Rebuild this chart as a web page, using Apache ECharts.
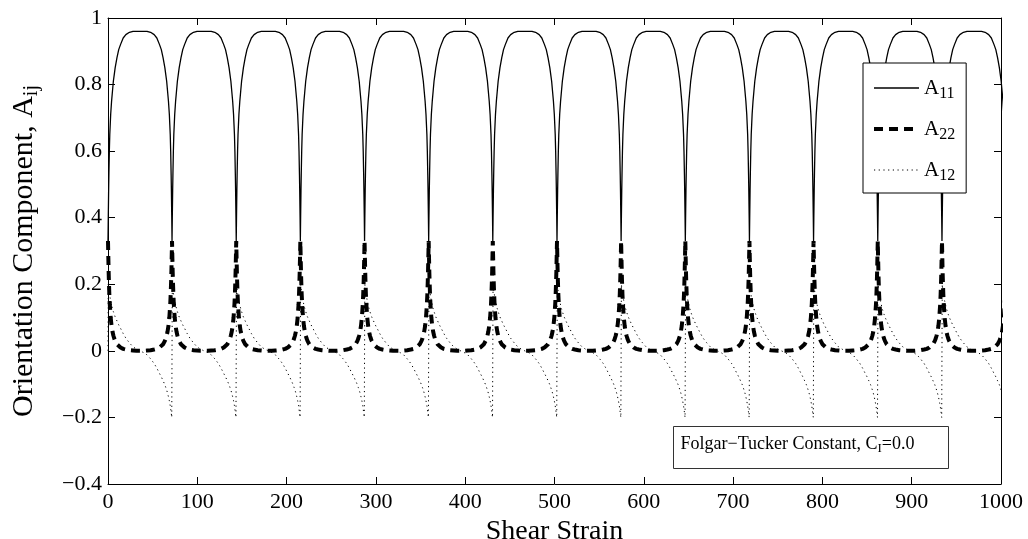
<!DOCTYPE html>
<html>
<head>
<meta charset="utf-8">
<script src="https://cdn.jsdelivr.net/npm/echarts@6/dist/echarts.min.js"></script>
<style>
html,body{margin:0;padding:0;background:#fff;}
#chart{width:1028px;height:539px;}
</style>
</head>
<body>
<div id="chart"></div>
<script>
// ---- data ----
// shear strain positions of the flip cusps (A22 peaks)
const cuspX = [0, 71.7, 143.6, 215.4, 287.3, 359.1, 430.9, 502.8, 574.6, 646.5, 718.3, 790.1, 862.0, 933.9, 1006.2];
// distance (strain units) from a cusp at which one half-flip was read
const offsets = [0, 0.3, 0.7, 1, 1.5, 2, 2.5, 3, 4, 5, 6, 7, 8, 10, 12, 14, 17, 20, 24, 28, 32, 35];
// A11 read at those distances (symmetric about the cusp)
const a11Half = [0.33, 0.40, 0.48, 0.53, 0.60, 0.65, 0.68, 0.71, 0.75, 0.78, 0.81, 0.83, 0.85, 0.88, 0.905, 0.92, 0.94, 0.95, 0.957, 0.96, 0.96, 0.96];
// A22 read at those distances (symmetric about the cusp)
const a22Half = [0.33, 0.29, 0.24, 0.21, 0.17, 0.14, 0.12, 0.10, 0.075, 0.058, 0.046, 0.037, 0.03, 0.02, 0.014, 0.01, 0.006, 0.004, 0.002, 0.001, 0, 0];
// A12 read after a cusp (before a cusp it is the same with negative sign)
const a12Half = [0, 0.20, 0.19, 0.185, 0.175, 0.165, 0.158, 0.15, 0.138, 0.127, 0.118, 0.11, 0.102, 0.09, 0.078, 0.068, 0.052, 0.038, 0.024, 0.012, 0.005, 0.001];

const seriesNames = ['A11', 'A22', 'A12'];
const xTicks = [0, 100, 200, 300, 400, 500, 600, 700, 800, 900, 1000];
const yTickLabels = {'-0.4': '\u22120.4', '-0.2': '\u22120.2', '0': '0', '0.2': '0.2', '0.4': '0.4', '0.6': '0.6', '0.8': '0.8', '1': '1'};
const note = 'Folgar\u2212Tucker Constant, C';

function build(half, beforeSign) {
  const pts = [];
  cuspX.forEach((c, i) => {
    if (i > 0) {
      for (let k = offsets.length - 1; k >= 1; k--) pts.push([c - offsets[k], beforeSign * half[k]]);
    }
    pts.push([c, half[0]]);
    for (let k = 1; k < offsets.length; k++) pts.push([c + offsets[k], half[k]]);
  });
  return pts;
}

const FONT = 'Liberation Serif';
const chart = echarts.init(document.getElementById('chart'), null, {renderer: 'canvas'});

const axisCommon = {
  axisLine: {show: true, onZero: false, lineStyle: {color: '#000', width: 1}},
  axisTick: {show: true, inside: true, length: 7, lineStyle: {color: '#000', width: 1}},
  splitLine: {show: false}
};

chart.setOption({
  backgroundColor: '#fff',
  animation: false,
  grid: {left: 108, right: 27, top: 18, bottom: 55, containLabel: false, outerBoundsMode: 'none'},
  xAxis: [
    Object.assign({
      type: 'value', min: xTicks[0], max: xTicks[xTicks.length - 1], interval: 100,
      position: 'bottom',
      axisLabel: {color: '#000', fontFamily: FONT, fontSize: 22, margin: 7, formatter: v => String(v)},
      name: 'Shear Strain', nameLocation: 'middle', nameGap: 27,
      nameTextStyle: {color: '#000', fontFamily: FONT, fontSize: 28}
    }, axisCommon),
    Object.assign({
      type: 'value', min: 0, max: 1000, interval: 100, position: 'top',
      axisLabel: {show: false}
    }, axisCommon)
  ],
  yAxis: [
    Object.assign({
      type: 'value', min: -0.4, max: 1, interval: 0.2, position: 'left',
      axisLabel: {color: '#000', fontFamily: FONT, fontSize: 22, margin: 6,
        formatter: v => yTickLabels[String(Math.round(v * 10) / 10)] ?? String(v)},
      name: '{a|Orientation Component, A}{s|ij}', nameLocation: 'middle', nameGap: 66,
      nameTextStyle: {color: '#000', fontFamily: FONT, fontSize: 30,
        rich: {a: {fontFamily: FONT, fontSize: 30, color: '#000'},
               s: {fontFamily: FONT, fontSize: 20, color: '#000', padding: [16, 0, 0, 0]}}}
    }, axisCommon),
    Object.assign({
      type: 'value', min: -0.4, max: 1, interval: 0.2, position: 'right',
      axisLabel: {show: false}
    }, axisCommon)
  ],
  legend: {
    orient: 'vertical', left: 863, top: 63,
    backgroundColor: '#fff', borderColor: '#000', borderWidth: 1, borderRadius: 0,
    padding: [11, 11, 9, 9], itemGap: 13, itemWidth: 45, itemHeight: 20,
    data: seriesNames,
    itemStyle: {color: 'rgba(0,0,0,0)', borderWidth: 0, opacity: 0},
    lineStyle: {width: 'inherit', type: 'inherit', color: 'inherit'},
    formatter: n => '{a|A}{s|' + n.slice(1) + '}',
    textStyle: {color: '#000', fontFamily: FONT, fontSize: 21, padding: [0, 0, 0, 0],
      rich: {a: {fontFamily: FONT, fontSize: 21, color: '#000', lineHeight: 28},
             s: {fontFamily: FONT, fontSize: 16, color: '#000', lineHeight: 28, padding: [12, 0, 0, 0]}}}
  },
  graphic: [{
    type: 'group', left: 673, top: 426,
    children: [
      {type: 'rect', shape: {x: 0, y: 0, width: 275, height: 42},
       style: {fill: '#fff', stroke: '#333', lineWidth: 1}},
      {type: 'text', x: 7, y: 18,
       style: {text: '{a|' + note + '}{s|I}{a|=0.0}', verticalAlign: 'middle',
         rich: {a: {fontFamily: FONT, fontSize: 18, fill: '#000'},
                s: {fontFamily: FONT, fontSize: 13, fill: '#000', padding: [9, 0, 0, 0]}}}}
    ]
  }],
  series: [
    {name: 'A11', type: 'line', data: build(a11Half, 1), symbol: 'none', showSymbol: false,
     lineStyle: {color: '#000', width: 1.3, type: 'solid'}, itemStyle: {color: '#000'}, z: 3},
    {name: 'A22', type: 'line', data: build(a22Half, 1), symbol: 'none', showSymbol: false,
     lineStyle: {color: '#000', width: 4, type: [9, 6]}, itemStyle: {color: '#000'}, z: 2},
    {name: 'A12', type: 'line', data: build(a12Half, -1), symbol: 'none', showSymbol: false,
     lineStyle: {color: '#000', width: 1, type: [1.2, 3.5]}, itemStyle: {color: '#000'}, z: 1}
  ]
});
</script>
</body>
</html>
